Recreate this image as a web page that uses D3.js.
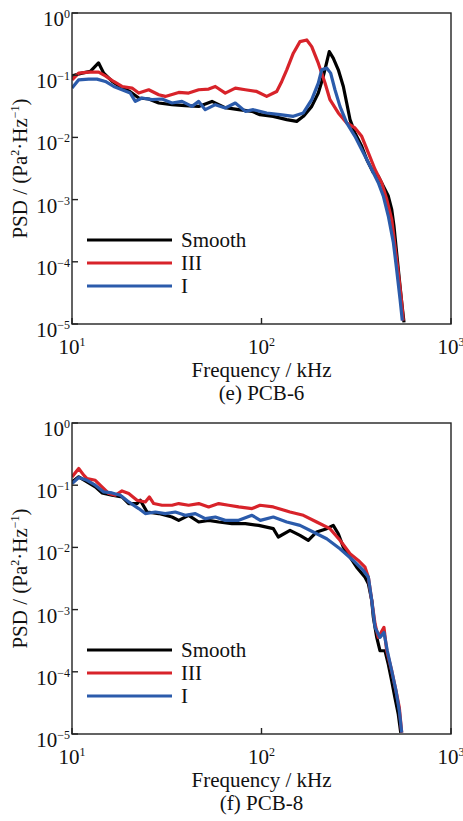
<!DOCTYPE html>
<meta charset="utf-8">
<style>
body { margin: 0; background: #fff; }
svg text { font-family: "Liberation Serif", "DejaVu Serif", serif; fill: #111; }
</style>
<body>
<svg id="chart"></svg>
<script src="https://d3js.org/d3.v7.min.js"></script>
<script>
// axis ticks (frequency in kHz, PSD in Pa^2/Hz)
var freqTicks = [10, 100, 1000];
var psdTicks = [1, 0.1, 0.01, 0.001, 0.0001, 0.00001];
var seriesNames = ["Smooth", "III", "I"];
var panelCaptions = ["(e) PCB-6", "(f) PCB-8"];

// PCB-6, [frequency, PSD]
var pcb6Smooth = [[10,0.0977],[11.3,0.108],[12.5,0.115],[13.8,0.158],[14.7,0.108],[16.3,0.0793],[18.4,0.0621],[20.2,0.0548],[22.5,0.043],[25.4,0.0414],[28.7,0.0357],[33.7,0.0336],[39.5,0.0324],[46.6,0.0315],[54.8,0.0379],[64.2,0.0301],[75.8,0.0279],[89.1,0.0262],[98.2,0.0232],[115.4,0.0218],[135.9,0.0193],[153.4,0.0181],[166.3,0.0218],[184.1,0.0315],[199.4,0.0516],[211.8,0.0953],[222.4,0.177],[227.8,0.24],[239.1,0.188],[254.3,0.122],[270.3,0.0659],[281.6,0.0357],[293.2,0.0193],[311.3,0.0118],[337.9,0.0072],[359.2,0.00441],[389.2,0.0027],[413.3,0.00238],[439.5,0.00164],[466.7,0.00114],[486.6,0.000697],[500,0.000376],[516.4,0.000141],[533.7,0.0000526],[549.5,0.0000223],[565,0.0000106]];
var pcb6III = [[10,0.0844],[10.85,0.108],[12.25,0.112],[13.83,0.112],[15,0.0977],[16.6,0.0793],[18.36,0.0659],[20.74,0.0621],[22.49,0.0516],[25.4,0.0583],[28.7,0.0485],[31.07,0.0456],[36.57,0.0528],[41.27,0.0516],[46.63,0.0583],[52.62,0.0598],[57.06,0.0659],[64.4,0.0516],[72.74,0.0621],[82.2,0.0583],[94.3,0.0548],[106.5,0.0456],[120.3,0.0548],[127.9,0.0793],[135.9,0.122],[147.2,0.226],[159.6,0.347],[173.3,0.369],[184.1,0.288],[199.4,0.156],[216.4,0.0747],[229.8,0.0404],[254.3,0.0247],[281.6,0.0171],[311.3,0.0142],[337.9,0.0104],[366.4,0.00565],[397.4,0.00305],[430.7,0.00187],[458,0.00101],[486.6,0.000482],[506,0.00018],[527,0.0000675],[549.5,0.0000223],[560,0.0000113]];
var pcb6I = [[10,0.0621],[10.85,0.0844],[12.25,0.0865],[13.55,0.0865],[15,0.0793],[16.6,0.0659],[18.36,0.0583],[20.3,0.0516],[21.58,0.0379],[23.41,0.043],[26.43,0.0404],[29.85,0.0414],[33.71,0.0357],[38.04,0.0379],[42.96,0.0315],[46.63,0.0379],[50.5,0.0279],[57.06,0.0336],[64.4,0.0297],[72.74,0.0357],[82.2,0.0262],[90.5,0.0279],[106.5,0.0247],[125.2,0.0232],[147.2,0.0218],[166.3,0.0247],[184.1,0.0404],[199.4,0.0747],[207.8,0.122],[220.8,0.13],[231.7,0.108],[244.2,0.0583],[259.5,0.0315],[281.6,0.0171],[311.3,0.0104],[344.6,0.00565],[381.8,0.00305],[413.3,0.00187],[439.5,0.00114],[466.7,0.000544],[496.4,0.000204],[516.4,0.000076],[538.3,0.0000252],[553.4,0.0000113]];

// PCB-8, [frequency, PSD]
var pcb8Smooth = [[10,0.113],[10.85,0.136],[12,0.113],[13.27,0.0939],[14.39,0.0751],[16.26,0.069],[18.36,0.0648],[19.92,0.0507],[22.03,0.0507],[22.93,0.0573],[24.88,0.0371],[28.7,0.035],[33.71,0.0308],[36.57,0.0272],[41.27,0.0328],[46.63,0.0256],[52.62,0.0272],[59.45,0.0256],[69.84,0.0241],[82.2,0.0241],[96.6,0.0226],[115.4,0.02],[122.6,0.0147],[141.4,0.0188],[159.6,0.0156],[176.6,0.013],[195.5,0.0177],[220.8,0.02],[239.1,0.0226],[254.3,0.0166],[270.3,0.0101],[293.2,0.00698],[317.8,0.00481],[351.8,0.00332],[366.4,0.0026],[381.8,0.0014],[389.2,0.000752],[405.6,0.000357],[421.8,0.000218],[448.6,0.000218],[466.7,0.000133],[486.6,0.0000716],[506,0.0000385],[527,0.0000208],[543,0.0000105]];
var pcb8III = [[10,0.136],[10.85,0.186],[11.53,0.145],[12,0.128],[13.27,0.12],[14.39,0.0939],[15.63,0.0735],[16.92,0.069],[18.36,0.0809],[19.92,0.0735],[22.03,0.0573],[24.37,0.0538],[25.59,0.0648],[26.99,0.0507],[29.85,0.0476],[33.71,0.0476],[36.57,0.0507],[41.27,0.0476],[46.63,0.0507],[52.62,0.0447],[59.45,0.0507],[67.1,0.0476],[75.8,0.0447],[89.1,0.0421],[98.2,0.0476],[115.4,0.0447],[141.4,0.0371],[166.3,0.0328],[195.5,0.0256],[229.8,0.02],[259.5,0.013],[293.2,0.00791],[324.3,0.00617],[351.8,0.00481],[366.4,0.00332],[381.8,0.0014],[397.4,0.000588],[413.3,0.000357],[442.8,0.000518],[458,0.000218],[486.6,0.000104],[512.6,0.0000494],[533.7,0.0000266],[549.5,0.0000105]];
var pcb8I = [[10,0.106],[10.85,0.133],[12,0.12],[13.27,0.1],[14.7,0.078],[16.26,0.0751],[17.99,0.069],[19.92,0.0538],[22.49,0.0421],[24.37,0.035],[27.53,0.0371],[31.07,0.035],[35.08,0.0371],[39.59,0.0328],[44.75,0.035],[50.5,0.029],[57.06,0.0308],[64.4,0.0272],[75.8,0.0272],[89.1,0.0328],[98.6,0.0272],[115.4,0.0308],[135.9,0.0256],[159.6,0.0226],[187.6,0.0177],[220.8,0.0138],[259.5,0.00953],[305.1,0.00617],[344.6,0.00426],[366.4,0.00332],[381.8,0.0014],[397.4,0.000518],[421.8,0.000357],[442.8,0.00043],[461.2,0.000218],[486.6,0.000104],[512.6,0.0000494],[533.7,0.0000235],[549.5,0.0000105]];

var colors = ["#000000", "#d8232a", "#2b5bab"];
var panels = [
  {top: 13, series: [pcb6Smooth, pcb6III, pcb6I], caption: panelCaptions[0]},
  {top: 423, series: [pcb8Smooth, pcb8III, pcb8I], caption: panelCaptions[1]}
];

var W = 463, H = 821;
var left = 72, plotW = 379, plotH = 311;
var serif = "Liberation Serif, DejaVu Serif, serif";

var svg = d3.select("#chart").attr("width", W).attr("height", H);

var x = d3.scaleLog().domain([10, 1000]).range([0, plotW]);
var y = d3.scaleLog().domain([0.00001, 1]).range([plotH, 0]);

// writes 10^n as "10" + raised exponent
function powLabel(sel, v) {
  var e = Math.round(Math.log10(v));
  sel.text("");
  sel.append("tspan").text("10");
  sel.append("tspan").attr("dy", -8).attr("font-size", "12px")
    .text(e < 0 ? "\u2212" + (-e) : e);
}

var line = d3.line()
  .x(function(d) { return x(d[0]); })
  .y(function(d) { return y(d[1]); });

panels.forEach(function(p, pi) {
  var g = svg.append("g")
    .attr("transform", "translate(" + left + "," + p.top + ")")
    .attr("font-family", serif);

  g.append("clipPath").attr("id", "clip" + pi)
    .append("rect").attr("width", plotW).attr("height", plotH);

  // curves
  var lines = g.append("g").attr("clip-path", "url(#clip" + pi + ")");
  p.series.forEach(function(s, i) {
    lines.append("path")
      .datum(s)
      .attr("d", line)
      .attr("fill", "none")
      .attr("stroke", colors[i])
      .attr("stroke-width", 3.2)
      .attr("stroke-linejoin", "round");
  });

  // frame
  g.append("rect")
    .attr("width", plotW).attr("height", plotH)
    .attr("fill", "none").attr("stroke", "#222").attr("stroke-width", 1.4);

  // x axis ticks, inward
  var xa = g.append("g").attr("transform", "translate(0," + plotH + ")");
  xa.selectAll("line").data(freqTicks).enter().append("line")
    .attr("x1", function(d) { return x(d); }).attr("x2", function(d) { return x(d); })
    .attr("y1", 0).attr("y2", -6).attr("stroke", "#222").attr("stroke-width", 1.4);
  xa.selectAll("text").data(freqTicks).enter().append("text")
    .attr("x", function(d) { return x(d); })
    .attr("y", 30)
    .attr("text-anchor", "middle")
    .attr("font-size", "21px")
    .each(function(d) { powLabel(d3.select(this), d); });

  // y axis ticks, inward
  var ya = g.append("g");
  ya.selectAll("line").data(psdTicks).enter().append("line")
    .attr("x1", 0).attr("x2", 6)
    .attr("y1", function(d) { return y(d); }).attr("y2", function(d) { return y(d); })
    .attr("stroke", "#222").attr("stroke-width", 1.4);
  ya.selectAll("text").data(psdTicks).enter().append("text")
    .attr("x", -2)
    .attr("y", function(d) { return y(d) + 13; })
    .attr("text-anchor", "end")
    .attr("font-size", "21px")
    .each(function(d) { powLabel(d3.select(this), d); });

  // axis titles
  g.append("text")
    .attr("x", plotW / 2).attr("y", plotH + 53)
    .attr("text-anchor", "middle").attr("font-size", "21px")
    .text("Frequency / kHz");
  g.append("text")
    .attr("x", plotW / 2).attr("y", plotH + 76)
    .attr("text-anchor", "middle").attr("font-size", "21px")
    .text(p.caption);

  var yt = g.append("text")
    .attr("transform", "translate(-45," + (plotH / 2) + ") rotate(-90)")
    .attr("text-anchor", "middle").attr("font-size", "21px");
  yt.append("tspan").text("PSD / (Pa");
  yt.append("tspan").attr("dy", -8).attr("font-size", "12px").text("2");
  yt.append("tspan").attr("dy", 8).text("\u00b7Hz");
  yt.append("tspan").attr("dy", -8).attr("font-size", "12px").text("\u22121");
  yt.append("tspan").attr("dy", 8).text(")");

  // legend
  var lg = g.append("g");
  seriesNames.forEach(function(name, i) {
    var ly = 227 + i * 23;
    lg.append("line")
      .attr("x1", 15).attr("x2", 100).attr("y1", ly).attr("y2", ly)
      .attr("stroke", colors[i]).attr("stroke-width", 3.2);
    lg.append("text")
      .attr("x", 109).attr("y", ly + 7)
      .attr("font-size", "21px")
      .text(name);
  });
});
</script>
</body>
